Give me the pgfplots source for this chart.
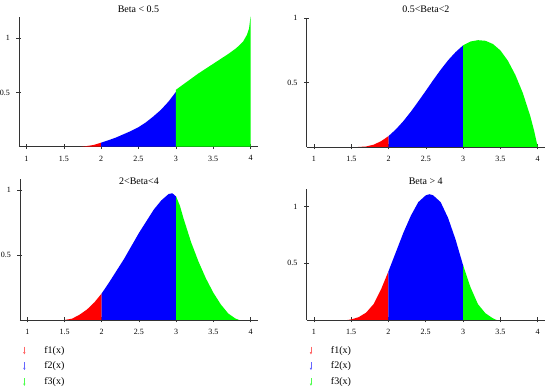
\documentclass[border=0pt]{standalone}
\usepackage{fontspec}
\setmainfont{Liberation Serif}
\usepackage{pgfplots}
\pgfplotsset{compat=1.18}
\usetikzlibrary{arrows.meta}
\definecolor{mred}{RGB}{255,0,0}
\definecolor{mblue}{RGB}{0,0,255}
\definecolor{mgreen}{RGB}{0,255,0}
\pgfplotsset{
  every axis title shift=0pt,
  mcad/.style={
    scale only axis, anchor=south west,
    axis lines=left, axis line style={-, black!80, line width=0.7pt},
    enlargelimits=false, xmin=0.9, xmax=4.1, ymin=0,
    xtick={1,1.5,2,2.5,3,3.5,4}, ytick={0.5,1},
    xticklabels={1,1.5,2,2.5,3,3.5,4},
    tick align=center, major tick length=5pt,
    tick style={black!80, line width=0.6pt},
    ticklabel style={font=\fontsize{8}{9}\selectfont},
    /pgf/number format/assume math mode=true,
    xticklabel style={yshift=-3pt},
    yticklabel style={xshift=-3pt},
    title style={font=\fontsize{10}{12}\selectfont, anchor=center, at={(0.5,1)}},
    clip=false,
    legend image code/.code={\draw[#1, line width=0.6pt, -{Latex[length=2.5pt,width=2.5pt]}] (0pt,4pt) -- (0pt,-4pt); \path[draw=none] (0pt,0pt) -- (20pt,0pt);},
    legend style={draw=none, fill=none, anchor=north west, font=\fontsize{10}{12}\selectfont,
      row sep=6.7pt, nodes={inner sep=0pt, text height=7pt, text depth=2pt}, legend cell align=left},
  }
}
\begin{document}
\begin{tikzpicture}
\path[use as bounding box] (0,0) rectangle (550pt,390pt);
% top-left
\begin{axis}[mcad, at={(19pt,243.3pt)}, width=239pt, height=130pt, ymax=1.2,
  title={Beta < 0.5}, title style={yshift=7.7pt}]
\addplot[fill=mred, draw=none] table {
1.73 0
1.8 0.005
1.9 0.016
2.0 0.037
} \closedcycle;
\addplot[fill=mblue, draw=none] table {
2.0 0.037
2.1 0.06
2.2 0.085
2.3 0.115
2.4 0.145
2.5 0.18
2.6 0.225
2.7 0.28
2.8 0.34
2.9 0.415
3.0 0.505
} \closedcycle;
\addplot[fill=mgreen, draw=none] table {
3.0 0.525
3.1 0.575
3.2 0.625
3.3 0.675
3.4 0.72
3.5 0.765
3.6 0.81
3.7 0.855
3.8 0.905
3.85 0.935
3.9 0.97
3.95 1.03
3.98 1.09
4.0 1.2
} \closedcycle;
\end{axis}
% top-right
\begin{axis}[mcad, at={(306.5pt,243pt)}, width=238.7pt, height=128.7pt, ymax=1.0,
  title={0.5<Beta<2}, title style={yshift=9.3pt}]
\addplot[fill=mred, draw=none] table {
1.59 0
1.7 0.004
1.8 0.018
1.9 0.045
2.0 0.085
} \closedcycle;
\addplot[fill=mblue, draw=none] table {
2.0 0.085
2.1 0.138
2.2 0.202
2.3 0.275
2.4 0.355
2.5 0.437
2.6 0.521
2.7 0.601
2.8 0.675
2.9 0.738
3.0 0.79
} \closedcycle;
\addplot[fill=mgreen, draw=none] table {
3.0 0.79
3.1 0.82
3.2 0.83
3.3 0.825
3.4 0.80
3.5 0.75
3.6 0.67
3.7 0.56
3.8 0.42
3.9 0.24
3.95 0.13
4.0 0
} \closedcycle;
\end{axis}
% bottom-left
\begin{axis}[mcad, at={(19.9pt,70pt)}, width=238.1pt, height=141pt, ymax=1.085,
  title={2<Beta<4}, title style={yshift=-2pt},
  legend style={at={(0,-0.170)}}]
\addplot[fill=mred, draw=none, forget plot] table {
1.5 0
1.6 0.01
1.7 0.04
1.8 0.08
1.9 0.135
2.0 0.205
} \closedcycle;
\addplot[fill=mblue, draw=none, forget plot] table {
2.0 0.205
2.1 0.29
2.2 0.38
2.3 0.47
2.4 0.57
2.5 0.67
2.6 0.76
2.7 0.85
2.8 0.92
2.9 0.97
2.95 0.975
3.0 0.95
} \closedcycle;
\addplot[fill=mgreen, draw=none, forget plot] table {
3.0 0.95
3.05 0.88
3.1 0.78
3.2 0.6
3.3 0.45
3.4 0.32
3.5 0.21
3.6 0.12
3.7 0.05
3.8 0.01
3.85 0
} \closedcycle;
\addlegendimage{mred!60}
\addlegendentry{f1(x)}
\addlegendimage{mblue!60}
\addlegendentry{f2(x)}
\addlegendimage{mgreen!70}
\addlegendentry{f3(x)}
\end{axis}
% bottom-right
\begin{axis}[mcad, at={(306.5pt,70pt)}, width=238.5pt, height=131pt, ymax=1.156,
  title={Beta > 4}, title style={yshift=8pt},
  legend style={at={(0,-0.183)}}]
\addplot[fill=mred, draw=none, forget plot] table {
1.45 0
1.5 0.005
1.6 0.025
1.7 0.065
1.8 0.14
1.9 0.27
2.0 0.43
} \closedcycle;
\addplot[fill=mblue, draw=none, forget plot] table {
2.0 0.43
2.1 0.60
2.2 0.77
2.3 0.92
2.4 1.04
2.5 1.10
2.55 1.11
2.6 1.10
2.7 1.04
2.8 0.90
2.9 0.71
3.0 0.485
} \closedcycle;
\addplot[fill=mgreen, draw=none, forget plot] table {
3.0 0.485
3.1 0.29
3.2 0.14
3.3 0.06
3.4 0.015
3.45 0
} \closedcycle;
\addlegendimage{mred!60}
\addlegendentry{f1(x)}
\addlegendimage{mblue!60}
\addlegendentry{f2(x)}
\addlegendimage{mgreen!70}
\addlegendentry{f3(x)}
\end{axis}
\end{tikzpicture}
\end{document}
